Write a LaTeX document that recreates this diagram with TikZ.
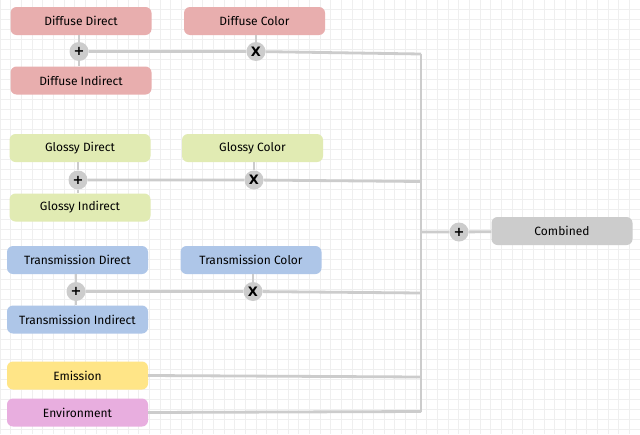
\documentclass[tikz,border=0pt]{standalone}
\usepackage{fontspec}
\setmainfont{Fira Sans}
\newfontfamily\opfont{DejaVu Sans}
\usetikzlibrary{calc}
\definecolor{diffusecol}{HTML}{E8AEAE}
\definecolor{glossycol}{HTML}{E1EBB3}
\definecolor{transcol}{HTML}{AEC6E8}
\definecolor{emitcol}{HTML}{FFE587}
\definecolor{envcol}{HTML}{E8AEDF}
\definecolor{combcol}{HTML}{CCCCCC}
\definecolor{wirecol}{HTML}{CCCCCC}
\definecolor{gridcol}{HTML}{EFEFEF}

\begin{document}
\begin{tikzpicture}[x=1pt,y=-1pt,
    channel/.style={rounded corners=6pt, minimum width=141pt, minimum height=28pt,
        inner sep=0pt, font=\fontsize{12}{14}\selectfont, text=black},
    op/.style={circle, fill=wirecol, minimum size=19pt, inner sep=0pt,
        font=\opfont\bfseries\fontsize{13}{14}\selectfont, text=black},
    wire/.style={draw=wirecol, line width=2.8pt}]
        % Page and grid
        \def\w{640}
        \def\h{434}
        \fill[white] (0,0) rectangle (\w,\h);
        \useasboundingbox (0,0) rectangle (\w,\h);
        \foreach \gx in {0,10.67,...,640}
            \draw[gridcol, line width=1pt] (\gx,0) -- (\gx,\h);
        \foreach \gy in {9.5,19.5,...,434}
            \draw[gridcol, line width=1pt] (0,\gy) -- (\w,\gy);
        % Draw the channels
        \node[channel, fill=diffusecol] (dd) at (81,21) {Diffuse Direct};
        \node[channel, fill=diffusecol] (dc) at (254.5,21) {Diffuse Color};
        \node[channel, fill=diffusecol] (di) at (81,80.5) {Diffuse Indirect};
        \node[channel, fill=glossycol] (gd) at (80,148) {Glossy Direct};
        \node[channel, fill=glossycol] (gc) at (252.5,148) {Glossy Color};
        \node[channel, fill=glossycol] (gi) at (80,207.5) {Glossy Indirect};
        \node[channel, fill=transcol] (td) at (77.5,260) {Transmission Direct};
        \node[channel, fill=transcol] (tc) at (251,260) {Transmission Color};
        \node[channel, fill=transcol] (ti) at (77.5,319.5) {Transmission Indirect};
        \node[channel, fill=emitcol] (em) at (77.5,375.5) {Emission};
        \node[channel, fill=envcol] (en) at (77.5,412.5) {Environment};
        \node[channel, fill=combcol] (co) at (562,231) {Combined};
        % Draw the operators
        \node[op] (dp) at (79,51.5) {+};
        \node[op] (dx) at (256,51.5) {X};
        \node[op] (gp) at (78,180) {+};
        \node[op] (gx) at (254,180) {X};
        \node[op] (tp) at (76,291.5) {+};
        \node[op] (tx) at (253,291.5) {X};
        \node[op] (cp) at (459,232) {+};
        % Bus coordinates
        \coordinate (b1) at (421,54);
        \coordinate (b2) at (421,181.5);
        \coordinate (b3) at (421,293);
        \coordinate (b4) at (421,377);
        \coordinate (b5) at (421,411.5);
        \coordinate (bj) at (421,232);
        % Draw the wires
        \draw[wire] (dp |- dd.south) -- (dp) -- (dp |- di.north);
        \draw[wire] (dx |- dc.south) -- (dx);
        \draw[wire] (dp) -- (dx) -- (b1);
        \draw[wire] (gp |- gd.south) -- (gp) -- (gp |- gi.north);
        \draw[wire] (gx |- gc.south) -- (gx);
        \draw[wire] (gp) -- (gx) -- (b2);
        \draw[wire] (tp |- td.south) -- (tp) -- (tp |- ti.north);
        \draw[wire] (tx |- tc.south) -- (tx);
        \draw[wire] (tp) -- (tx) -- (b3);
        \draw[wire] (em.east) -- (b4);
        \draw[wire] (en.east) -- (b5);
        \draw[wire] (b1) -- (b5);
        \draw[wire] (bj) -- (cp) -- (co);
    \end{tikzpicture}
\end{document}
